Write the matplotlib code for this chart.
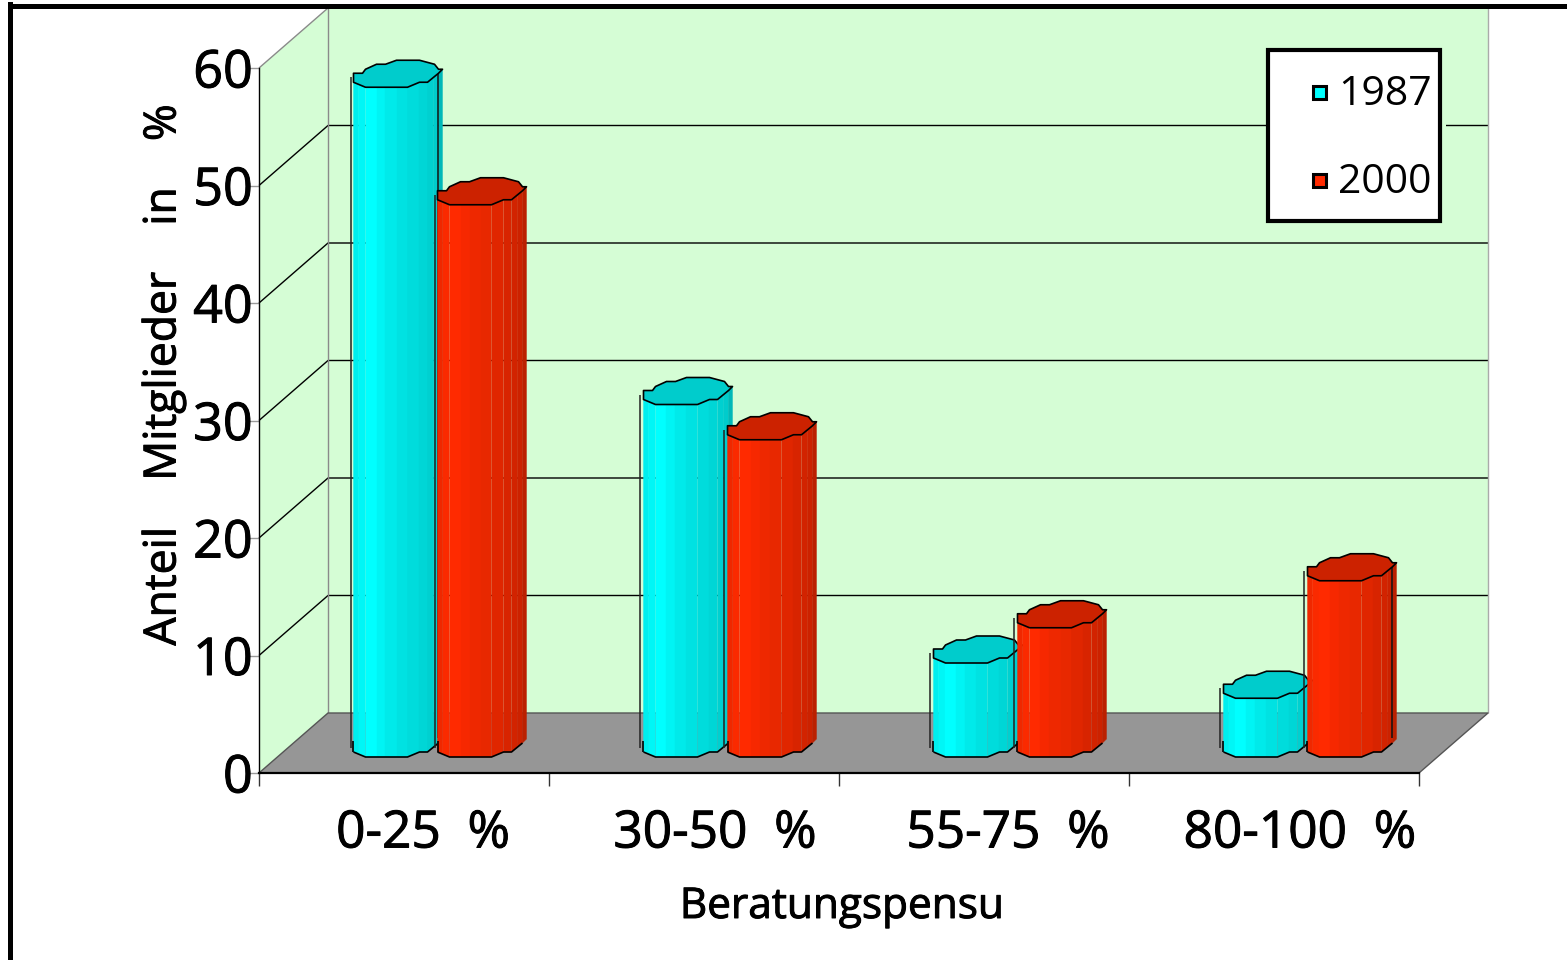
import numpy as np
import matplotlib
matplotlib.use('Agg')
import matplotlib.pyplot as plt
import matplotlib.patheffects as pe
from matplotlib.patches import Polygon, Rectangle
from matplotlib.lines import Line2D

# values
categories = ['0-25  %', '30-50  %', '55-75  %', '80-100  %']
values_1987 = [57, 30, 8, 5]
values_2000 = [47, 27, 11, 15]
y_ticks = [0, 10, 20, 30, 40, 50, 60]
series_names = ['1987', '2000']

plt.rcParams['font.family'] = ['Open Sans', 'DejaVu Sans']

W, H = 1567, 960
fig = plt.figure(figsize=(W / 100, H / 100), dpi=100, facecolor='white')
ax = fig.add_axes([259 / W, (H - 773) / H, 1160 / W, 705 / H])
ax.set_xlim(0, 4)
ax.set_ylim(0, 60)
ax.patch.set_visible(False)

# pixel to data factors, the fake 3d depth
PX = 4 / 1160
PY = 60 / 705
DX = 69 * PX
DY = 60 * PY

WALL = '#D5FDD5'
FLOOR = '#969696'
EDGE = '#8A8A8A'
# thicker strokes for the heavy look of the text
HEAVY = [pe.withStroke(linewidth=0.7, foreground='black')]


def poly(pts, **kw):
    kw.setdefault('clip_on', False)
    p = Polygon(pts, closed=True, **kw)
    ax.add_patch(p)
    return p


def line(xs, ys, **kw):
    ax.plot(xs, ys, clip_on=False, solid_capstyle='butt', **kw)


# walls and floor
poly([(DX, DY), (4 + DX, DY), (4 + DX, 60 + DY), (DX, 60 + DY)], fc=WALL, ec='none', zorder=1)
poly([(0, 0), (DX, DY), (DX, 60 + DY), (0, 60)], fc=WALL, ec='none', zorder=1)
poly([(0, 0), (DX, DY), (4 + DX, DY), (4, 0)], fc=FLOOR, ec='none', zorder=1.5)

for v in y_ticks[1:-1]:
    line([0, DX, 4 + DX], [v, v + DY, v + DY], color='black', lw=1, zorder=1.2)

line([DX, DX], [DY, 60 + DY], color=EDGE, lw=1, zorder=1.3)
line([4 + DX, 4 + DX], [DY, 60 + DY], color='#AAAAAA', lw=1, zorder=1.3)
line([0, DX, 4 + DX], [60, 60 + DY, 60 + DY], color=EDGE, lw=1, zorder=1.3)
line([0, DX, 4 + DX, 4], [0, DY, DY, 0], color='#555555', lw=1, zorder=1.6)

# outline of the cylinder top, in pixels from its centre
top_shape = [(-43, 0), (-34, 0), (-31, -4), (-20, -9), (-11, -9), (0, -13), (23, -13), (38, -9),
             (42, -4), (46, -4), (42, 0), (31, 9), (23, 9), (11, 14), (-31, 14), (-43, 9)]
front_x = [-43, -31, 11, 23, 31, 42, 46]
front_y = [9, 14, 14, 9, 9, 0, -4]
strips = [-43, -38, -31, -20, -11, 0, 11, 23, 31, 37, 42, 46]

shades = {
    '1987': ['#00EEEE', '#00F6F6', '#00FFFF', '#00F4F4', '#00EAEA', '#00E2E2', '#00DCDC',
             '#00D6D6', '#00D0D0', '#00CCCC', '#00B8B8'],
    '2000': ['#F02800', '#FA2A00', '#FF2A00', '#F62800', '#EE2800', '#E82800', '#E02600',
             '#D82400', '#D22300', '#CC2200', '#BB2000'],
}
top_colors = {'1987': '#00CCCC', '2000': '#CC2200'}


def draw_bar(xc, v, name, z, right_line=False):
    # xc, v: centre of the top in data units, base sits mid depth
    yb = DY / 2
    yt = v + DY / 2
    # thin line behind the left side
    line([xc - 46 * PX] * 2, [yb - 5 * PY, yt - 4 * PY], color='#222222', lw=1.1, zorder=z)
    for i in range(len(strips) - 1):
        x0, x1 = strips[i], strips[i + 1]
        f0 = np.interp(x0, front_x, front_y)
        f1 = np.interp(x1, front_x, front_y)
        poly([(xc + x0 * PX, yb - f0 * PY), (xc + x1 * PX, yb - f1 * PY),
              (xc + x1 * PX, yt - f1 * PY), (xc + x0 * PX, yt - f0 * PY)],
             fc=shades[name][i], ec=shades[name][i], lw=0.3, zorder=z)
    fx = [xc + x * PX for x in front_x]
    line(fx[:-1], [yb - y * PY for y in front_y[:-1]], color='black', lw=1.2, zorder=z)
    line([xc - 43 * PX] * 2, [yb - 9 * PY, yb + 2 * PY], color='black', lw=1.2, zorder=z)
    if right_line:
        line([xc + 42 * PX] * 2, [yb + 5 * PY, yt], color='#111111', lw=1.1, zorder=z)
    poly([(xc + x * PX, yt - y * PY) for x, y in top_shape],
         fc=top_colors[name], ec='black', lw=1.2, joinstyle='round', zorder=z + 0.1)


for i in range(len(categories)):
    centre = i + 0.5 + DX / 2
    draw_bar(centre - 42 * PX, values_1987[i], '1987', 3 + i, right_line=(i == 0))
    draw_bar(centre + 42 * PX, values_2000[i], '2000', 3.5 + i, right_line=(i == 3))

# axes
for s in ['top', 'right']:
    ax.spines[s].set_visible(False)
ax.spines['left'].set_linewidth(1)
ax.spines['bottom'].set_linewidth(1.6)
ax.spines['left'].set_zorder(2)
ax.spines['bottom'].set_zorder(2)
ax.set_yticks(y_ticks)
ax.set_yticklabels([str(v) for v in y_ticks], fontsize=37.5, path_effects=HEAVY)
ax.tick_params(axis='y', length=8, width=1, color='#999999', pad=-3.5)
ax.set_xticks(range(len(categories) + 1))
ax.set_xticklabels([])
ax.tick_params(axis='x', length=9, width=1, color='#333333')

label_shift = [19, 21, 24, 26]
for i, c in enumerate(categories):
    ax.text(i + 0.5 + label_shift[i] * PX, -61 * PY, c, fontsize=37, ha='center', va='center',
            color='black', path_effects=HEAVY)

fig.text(842 / W, 1 - 907 / H, 'Beratungspensu', fontsize=30.5, ha='center', va='center', path_effects=HEAVY)
fig.text(164 / W, 1 - 375 / H, 'Anteil    Mitglieder    in    %', fontsize=32, rotation=90,
         ha='center', va='center', path_effects=HEAVY)

# legend
fig.add_artist(Rectangle((1266 / W, 1 - 229 / H), 180 / W, 186 / H, transform=fig.transFigure,
                         fc=WALL, ec='none', zorder=8))
fig.add_artist(Rectangle((1268 / W, 1 - 221 / H), 172 / W, 171 / H, transform=fig.transFigure,
                         fc='white', ec='black', lw=3, zorder=9))
legend_y = [92, 180]
marker_colors = ['#00FFFF', '#FF2A00']
for name, yy, col in zip(series_names, legend_y, marker_colors):
    fig.add_artist(Rectangle((1313 / W, 1 - (yy + 7) / H), 13 / W, 13 / H, transform=fig.transFigure,
                             fc=col, ec='black', lw=2.2, zorder=10))
    fig.text(1385 / W, 1 - (yy + 3) / H, name, fontsize=29.5, ha='center', va='center', zorder=10)

# outer frame
fig.add_artist(Line2D([10 / W, 1], [1 - 6 / H, 1 - 6 / H], color='black', lw=3.6, transform=fig.transFigure))
fig.add_artist(Line2D([10 / W, 10 / W], [0, 1 - 4 / H], color='black', lw=3.6, transform=fig.transFigure))

fig.savefig('out.png', dpi=100)
